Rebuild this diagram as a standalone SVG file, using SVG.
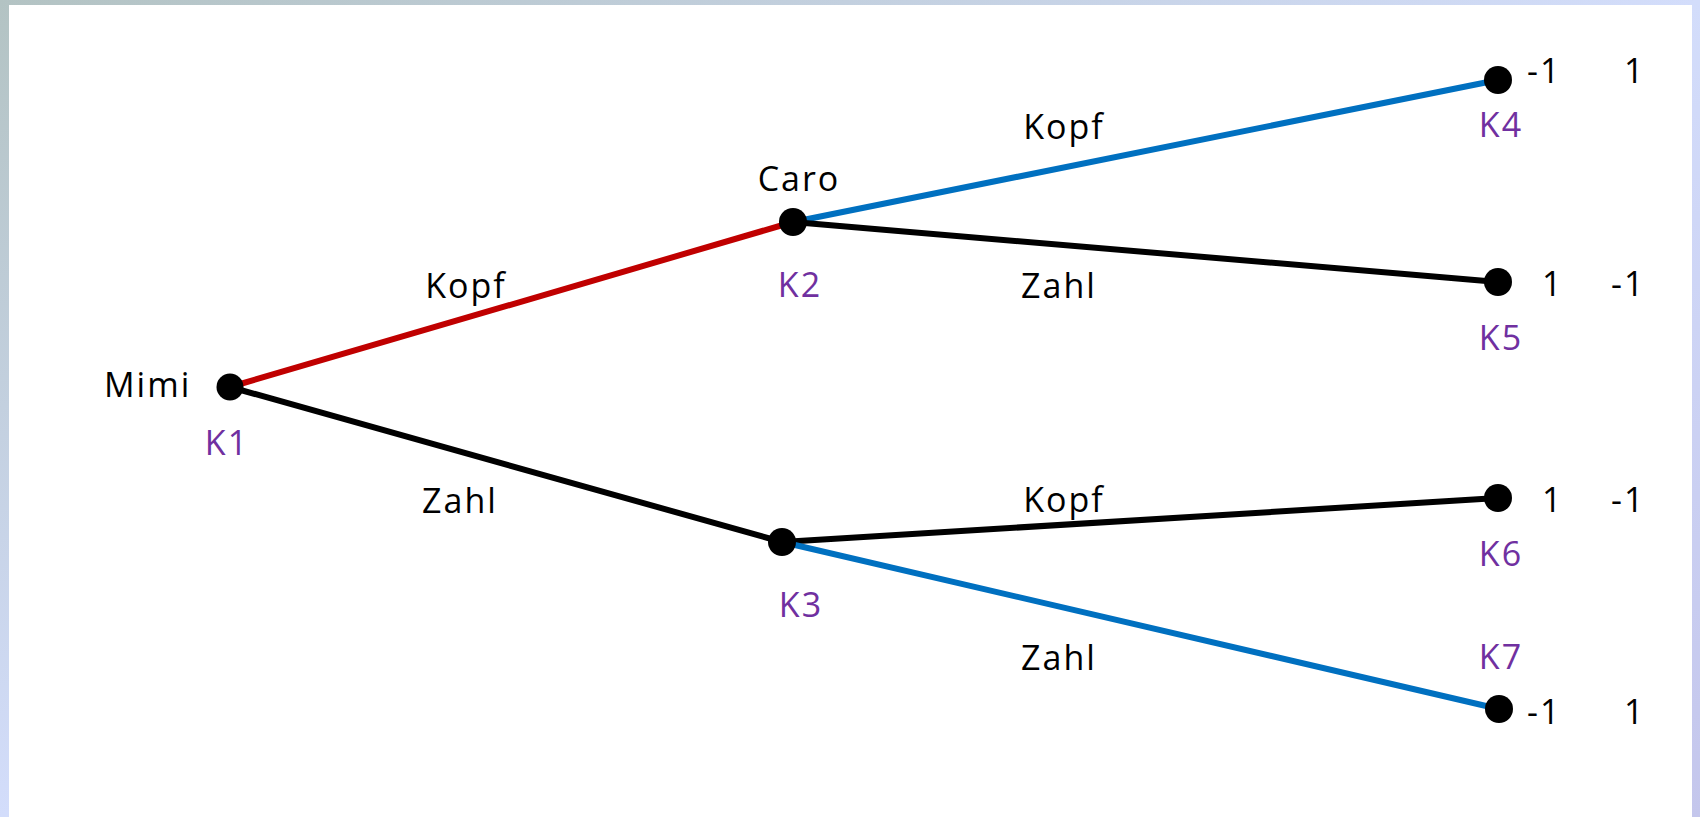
<svg xmlns="http://www.w3.org/2000/svg" width="1700" height="817" viewBox="0 0 1700 817">
  <defs>
    <linearGradient id="bg" x1="0" y1="0" x2="1" y2="1">
      <stop offset="0" stop-color="#b3c3c3"/>
      <stop offset="0.5" stop-color="#d3ddfb"/>
      <stop offset="1" stop-color="#c4c6ec"/>
    </linearGradient>
    <style>
      .edge { stroke-width: 6; fill: none; stroke-linecap: round; }
      .red { stroke: #c00000; }
      .blk { stroke: #000000; }
      .blu { stroke: #0070c0; }
      .dot { fill: #000000; }
      text { font-family: "Open Sans", "Liberation Sans", sans-serif; font-size: 34px; fill: #000000; letter-spacing: 2px; }
      .k { fill: #7030a0; text-anchor: middle; }
      .c { text-anchor: middle; }
    </style>
  </defs>
  <rect x="0" y="0" width="1700" height="817" fill="url(#bg)"/>
  <rect x="9" y="5" width="1683" height="812" fill="#ffffff"/>

  <g id="connectors">
    <line class="edge red" x1="230" y1="387" x2="793" y2="222"/>
    <line class="edge blk" x1="230" y1="387" x2="782" y2="542"/>
    <line class="edge blu" x1="793" y1="222" x2="1498" y2="80"/>
    <line class="edge blk" x1="793" y1="222" x2="1498" y2="282"/>
    <line class="edge blk" x1="782" y1="542" x2="1498" y2="498"/>
    <line class="edge blu" x1="782" y1="542" x2="1499" y2="709"/>
    <text class="c" x="466" y="298">Kopf</text>
    <text class="c" x="460" y="513">Zahl</text>
    <text class="c" x="1064" y="139">Kopf</text>
    <text class="c" x="1059" y="298">Zahl</text>
    <text class="c" x="1064" y="512">Kopf</text>
    <text class="c" x="1059" y="670">Zahl</text>
  </g>

  <g id="K1">
    <circle class="dot" cx="230" cy="387" r="13.5"/>
    <text x="104" y="397">Mimi</text>
    <text class="k" x="227" y="455">K1</text>
  </g>
  <g id="K2">
    <circle class="dot" cx="793" cy="222" r="14"/>
    <text class="c" x="799" y="191">Caro</text>
    <text class="k" x="800" y="297">K2</text>
  </g>
  <g id="K3">
    <circle class="dot" cx="782" cy="542" r="14"/>
    <text class="k" x="801" y="617">K3</text>
  </g>
  <g id="K4">
    <circle class="dot" cx="1498" cy="80" r="14"/>
    <text class="k" x="1501" y="137">K4</text>
    <text x="1527" y="83">-1</text>
    <text x="1624" y="83">1</text>
  </g>
  <g id="K5">
    <circle class="dot" cx="1498" cy="282" r="14"/>
    <text class="k" x="1501" y="350">K5</text>
    <text x="1542" y="296">1</text>
    <text x="1611" y="296">-1</text>
  </g>
  <g id="K6">
    <circle class="dot" cx="1498" cy="498" r="14"/>
    <text class="k" x="1501" y="566">K6</text>
    <text x="1542" y="512">1</text>
    <text x="1611" y="512">-1</text>
  </g>
  <g id="K7">
    <circle class="dot" cx="1499" cy="709" r="14"/>
    <text class="k" x="1501" y="669">K7</text>
    <text x="1527" y="724">-1</text>
    <text x="1624" y="724">1</text>
  </g>
</svg>
